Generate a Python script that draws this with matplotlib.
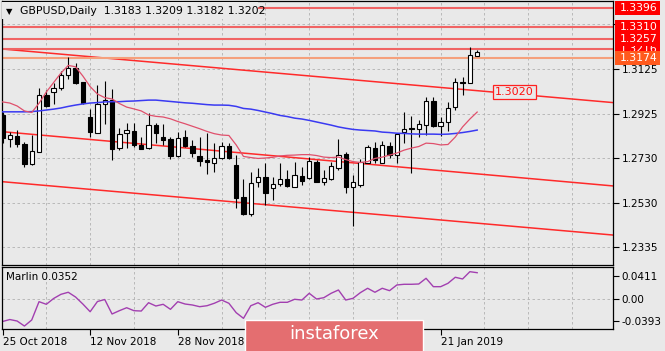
import matplotlib
matplotlib.use("Agg")
import matplotlib.pyplot as plt
from matplotlib.patches import Rectangle
import numpy as np

BG = "#e9e9e9"

# daily bars 25 Oct 2018 .. 28 Jan 2019
opens = [1.2921, 1.2814, 1.2828, 1.2792, 1.2702, 1.2758, 1.3010, 1.3024, 1.3039, 1.3098,
         1.3128, 1.3066, 1.2913, 1.2842, 1.2970, 1.2987, 1.2773, 1.2842, 1.2851, 1.2788,
         1.2773, 1.2876, 1.2822, 1.2813, 1.2740, 1.2822, 1.2783, 1.2739, 1.2721, 1.2709,
         1.2728, 1.2783, 1.2699, 1.2558, 1.2480, 1.2625, 1.2644, 1.2595, 1.2613, 1.2635,
         1.2602, 1.2651, 1.2640, 1.2713, 1.2625, 1.2635, 1.2684, 1.2746, 1.2602, 1.2610,
         1.2709, 1.2773, 1.2709, 1.2783, 1.2743, 1.2847, 1.2862, 1.2857, 1.2876, 1.2983,
         1.2872, 1.2891, 1.2958, 1.3066, 1.3064, 1.3183]
highs = [1.2934, 1.2847, 1.2854, 1.2802, 1.2832, 1.3039, 1.3032, 1.3062, 1.3117, 1.3178,
         1.3152, 1.3068, 1.2946, 1.3054, 1.3073, 1.3035, 1.2863, 1.2884, 1.2884, 1.2824,
         1.2928, 1.2887, 1.2881, 1.2824, 1.2847, 1.2854, 1.2810, 1.2824, 1.2840, 1.2795,
         1.2802, 1.2795, 1.2743, 1.2637, 1.2669, 1.2684, 1.2706, 1.2647, 1.2706, 1.2677,
         1.2713, 1.2691, 1.2733, 1.2721, 1.2677, 1.2713, 1.2813, 1.2758, 1.2654, 1.2725,
         1.2788, 1.2802, 1.2807, 1.2802, 1.2840, 1.2935, 1.2916, 1.2899, 1.3002, 1.3002,
         1.2913, 1.2980, 1.3084, 1.3088, 1.3221, 1.3209]
lows = [1.2796, 1.2779, 1.2780, 1.2691, 1.2699, 1.2756, 1.2955, 1.2970, 1.3032, 1.3079,
        1.3057, 1.2970, 1.2822, 1.2840, 1.2881, 1.2721, 1.2765, 1.2773, 1.2780, 1.2768,
        1.2768, 1.2795, 1.2788, 1.2724, 1.2736, 1.2777, 1.2736, 1.2694, 1.2657, 1.2669,
        1.2724, 1.2724, 1.2506, 1.2477, 1.2472, 1.2602, 1.2521, 1.2543, 1.2605, 1.2602,
        1.2602, 1.2609, 1.2635, 1.2622, 1.2610, 1.2632, 1.2677, 1.2576, 1.2428, 1.2601,
        1.2706, 1.2709, 1.2706, 1.2729, 1.2706, 1.2795, 1.2665, 1.2824, 1.2832, 1.2866,
        1.2828, 1.2851, 1.2943, 1.3010, 1.3062, 1.3182]
closes = [1.2819, 1.2832, 1.2791, 1.2702, 1.2762, 1.3010, 1.2961, 1.3039, 1.3098, 1.3128,
          1.3062, 1.2973, 1.2847, 1.2970, 1.2987, 1.2770, 1.2835, 1.2854, 1.2788, 1.2770,
          1.2876, 1.2840, 1.2810, 1.2740, 1.2820, 1.2783, 1.2751, 1.2718, 1.2712, 1.2728,
          1.2783, 1.2728, 1.2551, 1.2483, 1.2620, 1.2647, 1.2576, 1.2614, 1.2635, 1.2607,
          1.2654, 1.2628, 1.2718, 1.2625, 1.2640, 1.2696, 1.2743, 1.2600, 1.2622, 1.2713,
          1.2777, 1.2721, 1.2788, 1.2743, 1.2835, 1.2859, 1.2857, 1.2880, 1.2983, 1.2872,
          1.2891, 1.2950, 1.3069, 1.3063, 1.3188, 1.3202]

# moving averages (blue = slow, crimson = fast)
ma_slow = [1.2935, 1.2935, 1.2935, 1.2935, 1.2936, 1.2939, 1.2943, 1.2947, 1.2952, 1.2959,
           1.2965, 1.2970, 1.2974, 1.2976, 1.2979, 1.2980, 1.2980, 1.2982, 1.2983, 1.2985,
           1.2987, 1.2987, 1.2984, 1.2981, 1.2978, 1.2975, 1.2973, 1.2970, 1.2967, 1.2965,
           1.2965, 1.2964, 1.2959, 1.2950, 1.2947, 1.2941, 1.2934, 1.2927, 1.2919, 1.2914,
           1.2907, 1.2903, 1.2897, 1.2890, 1.2883, 1.2876, 1.2868, 1.2862, 1.2857, 1.2854,
           1.2852, 1.2850, 1.2845, 1.2843, 1.2840, 1.2839, 1.2837, 1.2836, 1.2836, 1.2836,
           1.2835, 1.2836, 1.2839, 1.2843, 1.2848, 1.2854]
ma_fast = [1.2979, 1.2974, 1.2961, 1.2939, 1.2932, 1.2973, 1.3023, 1.3065, 1.3107, 1.3141,
           1.3135, 1.3094, 1.3047, 1.3014, 1.2998, 1.2992, 1.2972, 1.2956, 1.2948, 1.2939,
           1.2921, 1.2915, 1.2912, 1.2904, 1.2892, 1.2882, 1.2871, 1.2860, 1.2848, 1.2838,
           1.2832, 1.2830, 1.2788, 1.2737, 1.2732, 1.2728, 1.2730, 1.2733, 1.2739, 1.2742,
           1.2743, 1.2745, 1.2745, 1.2741, 1.2734, 1.2732, 1.2734, 1.2723, 1.2714, 1.2710,
           1.2714, 1.2728, 1.2734, 1.2743, 1.2752, 1.2765, 1.2774, 1.2781, 1.2796, 1.2794,
           1.2788, 1.2790, 1.2823, 1.2868, 1.2903, 1.2934]

marlin = [-0.0395, -0.0360, -0.0386, -0.0474, -0.0368, -0.0047, -0.0093, 0.0009, 0.0082, 0.0118,
          0.0035, -0.0088, -0.0223, -0.0044, -0.0009, -0.0263, -0.0205, -0.0153, -0.0205, -0.0211,
          -0.0065, -0.0123, -0.0093, -0.0181, -0.0047, -0.0088, -0.0105, -0.0135, -0.0118, -0.0075,
          -0.0018, -0.0075, -0.0240, -0.0339, -0.0118, -0.0065, -0.0146, -0.0093, -0.0058, -0.0058,
          -0.0005, -0.0018, 0.0100, 0.0000, 0.0023, 0.0100, 0.0158, -0.0018, 0.0012, 0.0111,
          0.0188, 0.0118, 0.0188, 0.0146, 0.0246, 0.0258, 0.0258, 0.0263, 0.0363, 0.0216,
          0.0216, 0.0275, 0.0381, 0.0351, 0.0479, 0.0461]
marlin_current = 0.0352

# horizontal levels and the descending channel
levels = [1.3216, 1.3257, 1.3310, 1.3396]
support_level = 1.3174
channel_x = [-0.07, 83.6]
channel_upper = [1.3214, 1.2976]
channel_mid = [1.2847, 1.2606]
channel_low = [1.2625, 1.2388]
upper_label = "1.3020"

price_ticks = [1.3325, 1.3125, 1.2925, 1.2730, 1.2530, 1.2335]
price_labels = ["", "1.3125", "1.2925", "1.2730", "1.2530", "1.2335"]
marlin_ticks = [0.0411, 0.0, -0.0393]
marlin_labels = ["0.0411", "0.00", "-0.0393"]
date_ticks = [0, 12, 24, 60]
date_labels = ["25 Oct 2018", "12 Nov 2018", "28 Nov 2018", "21 Jan 2019"]

W, H = 665, 351
plt.rcParams["font.family"] = "DejaVu Sans"
plt.rcParams["font.size"] = 7.5

fig = plt.figure(figsize=(W / 100, H / 100), dpi=100, facecolor=BG)
ax = fig.add_axes([2 / W, 1 - 265 / H, 611 / W, 264 / H])
ax2 = fig.add_axes([2 / W, 1 - 329 / H, 611 / W, 62 / H])

x = np.arange(len(opens))
o = np.array(opens); c = np.array(closes)
grid_kw = dict(color="#b2b2b2", linestyle=(0, (3, 3)), linewidth=0.6)

for a in (ax, ax2):
    a.set_facecolor(BG)
    a.set_xlim(-0.07, 83.6)
    a.set_xticks(np.arange(6, 84, 6), minor=True)
    a.grid(True, which="minor", axis="x", **grid_kw)
    a.yaxis.tick_right()
    a.tick_params(axis="y", direction="out", length=4, width=0.8, pad=2, colors="black")
    a.tick_params(axis="x", which="minor", length=0)
    for s in a.spines.values():
        s.set_linewidth(0.9)
    a.set_axisbelow(True)

# main chart
ax.set_ylim(1.2255, 1.3427)
ax.set_yticks(price_ticks)
ax.set_yticklabels(price_labels)
ax.grid(True, axis="y", **grid_kw)
ax.set_xticks([])
ax.tick_params(axis="x", length=0, labelbottom=False)

ax.vlines(x, lows, highs, color="black", linewidth=0.8, zorder=3)
up = c >= o
ax.bar(x, np.abs(c - o), bottom=np.minimum(o, c), width=0.6,
       color=np.where(up, "white", "black"), edgecolor="black", linewidth=0.8, zorder=4)

ax.plot(x, ma_slow, color="#3a3af2", linewidth=1.1, zorder=5)
ax.plot(x, ma_fast, color="#e0506c", linewidth=0.9, zorder=5)

for ch in (channel_upper, channel_mid, channel_low):
    ax.plot(channel_x, ch, color="#ff2a2a", linewidth=1.1, zorder=2)

for lv in levels:
    ax.axhline(lv, color="#f06464", linewidth=1.5, zorder=2)
ax.axhline(support_level, color="#f5a07c", linewidth=1.5, zorder=2)

# price labels on the right scale, each one stacked above the previous
ytr = ax.get_yaxis_transform()
box_h = 14 * (1.3427 - 1.2255) / 264
for k, lv in enumerate(levels + [support_level]):
    fc = "#ff5a1e" if lv == support_level else "#ff0000"
    z = 6 + 2 * k
    ax.add_patch(Rectangle((1.0033, lv - box_h / 2), 45 / 611, box_h, transform=ytr,
                           facecolor=fc, edgecolor="none", clip_on=False, zorder=z))
    ax.text(1.011, lv, f"{lv:.4f}", transform=ytr, color="white", va="center", ha="left",
            fontsize=7.8, clip_on=False, zorder=z + 1)

ax.text(70.1, 1.3025, upper_label, color="#ff1010", fontsize=8, ha="center", va="center",
        bbox=dict(boxstyle="square,pad=0.18", facecolor=BG, edgecolor="#ff2020", linewidth=0.9),
        zorder=8)

# Marlin window
ax2.set_ylim(-0.0526, 0.0561)
ax2.set_yticks(marlin_ticks)
ax2.set_yticklabels(marlin_labels)
ax2.axhline(marlin_ticks[1], zorder=1, **grid_kw)
ax2.plot(x, marlin, color="#a23fb0", linewidth=1.0)
ax2.set_xticks(date_ticks)
ax2.set_xticklabels(date_labels, ha="left")
ax2.tick_params(axis="x", which="major", direction="out", length=4, width=0.8, pad=2)

# header
fig.add_artist(Rectangle((2 / W, 1 - 19 / H), 256 / W, 17 / H, transform=fig.transFigure,
                         facecolor=BG, edgecolor="none", zorder=5))
fig.text(6 / W, 1 - 11.5 / H, "\u25bc", fontsize=6, va="center", zorder=6)
fig.text(20 / W, 1 - 11.5 / H,
         f"GBPUSD,Daily  {opens[-1]:.4f} {highs[-1]:.4f} {lows[-1]:.4f} {closes[-1]:.4f}",
         fontsize=7.8, va="center", zorder=6)
fig.text(6 / W, 1 - 277 / H, f"Marlin {marlin_current:.4f}", fontsize=7.5, va="center", zorder=6)

# watermark
fig.add_artist(Rectangle((245 / W, -0.02), 178 / W, 31 / H + 0.02, transform=fig.transFigure,
                         facecolor="#e46e70", edgecolor="white", linewidth=1.0, zorder=10))
fig.text(334 / W, 1 - 334 / H, "instaforex", color="white", fontsize=13,
         ha="center", va="center", zorder=11)

fig.savefig("out.png", dpi=100, facecolor=BG)
